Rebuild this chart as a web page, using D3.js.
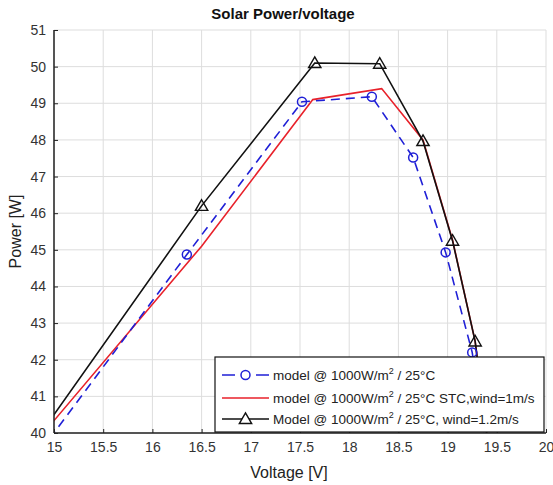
<!DOCTYPE html>
<html>
<head>
<meta charset="utf-8">
<style>
  body { margin: 0; background: #fff; }
  svg { font-family: Arial, 'Liberation Sans', sans-serif; }
  .grid line { stroke: #ddd; stroke-width: 1; }
  .axis .domain { stroke: #222; stroke-width: 1.5; }
  .axis .tick line { stroke: #222; }
  .axis .tick text { font-size: 14px; fill: #333; }
  .legend text { font-size: 13.5px; fill: #222; }
</style>
</head>
<body>
<svg width="553" height="485"></svg>
<script src="https://d3js.org/d3.v7.min.js"></script>
<script>
  // values
  let xTicks = [15, 15.5, 16, 16.5, 17, 17.5, 18, 18.5, 19, 19.5, 20];
  let yTicks = [40, 41, 42, 43, 44, 45, 46, 47, 48, 49, 50, 51];

  // blue dashed, circles (first and last points lie outside the box / under the legend)
  let blueV = [14.5, 16.35, 17.52, 18.23, 18.65, 18.98, 19.25, 19.4];
  let blueP = [38.2, 44.87, 49.04, 49.18, 47.52, 44.93, 42.2, 39.5];
  // red solid, no markers
  let redV = [14.5, 16.5, 17.63, 18.33, 18.75, 19.05, 19.28, 19.42];
  let redP = [38.75, 45.1, 49.1, 49.4, 48.0, 45.27, 42.5, 39.5];
  // black solid, triangles
  let blackV = [14.5, 16.5, 17.65, 18.31, 18.75, 19.05, 19.28, 19.42];
  let blackP = [38.6, 46.2, 50.1, 50.08, 47.97, 45.25, 42.5, 39.5];

  let legendLabels = [
    ["model @ 1000W/m", "2", " / 25°C"],
    ["model @ 1000W/m", "2", " / 25°C STC,wind=1m/s"],
    ["Model @ 1000W/m", "2", " / 25°C, wind=1.2m/s"]
  ];

  let svg = d3.select("svg");
  let margin = { top: 30, right: 7, bottom: 52, left: 54 };
  let width = 553 - margin.left - margin.right;
  let height = 485 - margin.top - margin.bottom;

  let x = d3.scaleLinear().domain([15, 20]).range([margin.left, margin.left + width]);
  let y = d3.scaleLinear().domain([40, 51]).range([margin.top + height, margin.top]);

  // grid
  let grid = svg.append("g").attr("class", "grid");
  grid.selectAll(".gx").data(xTicks).join("line")
    .attr("x1", d => x(d)).attr("x2", d => x(d))
    .attr("y1", y(40)).attr("y2", y(51));
  grid.selectAll(".gy").data(yTicks).join("line")
    .attr("y1", d => y(d)).attr("y2", d => y(d))
    .attr("x1", x(15)).attr("x2", x(20));

  svg.append("defs").append("clipPath").attr("id", "clip")
    .append("rect").attr("x", x(15)).attr("y", y(51))
    .attr("width", width).attr("height", height);

  let line = d3.line().x(d => x(d[0])).y(d => y(d[1]));
  let plot = svg.append("g").attr("clip-path", "url(#clip)");

  let red = d3.zip(redV, redP);
  let blue = d3.zip(blueV, blueP);
  let black = d3.zip(blackV, blackP);

  plot.append("path").datum(red).attr("d", line)
    .attr("fill", "none").attr("stroke", "#e8212a").attr("stroke-width", 1.6);
  plot.append("path").datum(blue).attr("d", line)
    .attr("fill", "none").attr("stroke", "#1f1fd6").attr("stroke-width", 1.6)
    .attr("stroke-dasharray", "9,6");
  plot.append("path").datum(black).attr("d", line)
    .attr("fill", "none").attr("stroke", "#111").attr("stroke-width", 1.6);

  let tri = d3.symbol().type(d3.symbolTriangle).size(66);
  plot.selectAll(".circ").data(blue.slice(1, -1)).join("circle")
    .attr("cx", d => x(d[0])).attr("cy", d => y(d[1])).attr("r", 4.5)
    .attr("fill", "none").attr("stroke", "#1f1fd6").attr("stroke-width", 1.5);
  plot.selectAll(".tri").data(black.slice(1, -1)).join("path")
    .attr("d", tri)
    .attr("transform", d => `translate(${x(d[0])},${y(d[1]) + 1})`)
    .attr("fill", "none").attr("stroke", "#111").attr("stroke-width", 1.4);

  // axes
  svg.append("g").attr("class", "axis")
    .attr("transform", `translate(0,${y(40)})`)
    .call(d3.axisBottom(x).tickValues(xTicks).tickSize(-4).tickPadding(9).tickFormat(d => d))
    .call(g => g.select(".domain").attr("d", `M${x(15)},0H${x(20)}`));
  svg.append("g").attr("class", "axis")
    .attr("transform", `translate(${x(15)},0)`)
    .call(d3.axisLeft(y).tickValues(yTicks).tickSize(-4).tickPadding(8))
    .call(g => g.select(".domain").attr("d", `M0,${y(40)}V${y(51)}`));

  // title and labels
  svg.append("text").attr("x", 283).attr("y", 19).attr("text-anchor", "middle")
    .attr("font-size", 15).attr("font-weight", "bold").attr("fill", "#111")
    .text("Solar Power/voltage");
  svg.append("text").attr("x", 289).attr("y", 478).attr("text-anchor", "middle")
    .attr("font-size", 16).attr("fill", "#222").text("Voltage [V]");
  svg.append("text").attr("transform", `translate(21,${y(45.5)}) rotate(-90)`)
    .attr("text-anchor", "middle").attr("font-size", 16).attr("fill", "#222")
    .text("Power [W]");

  // legend
  let lg = svg.append("g").attr("class", "legend");
  lg.append("rect").attr("x", 215).attr("y", 357).attr("width", 329).attr("height", 75)
    .attr("fill", "#fff").attr("stroke", "#111").attr("stroke-width", 1.2);
  let rows = [375, 398, 419];
  let styles = [
    { c: "#1f1fd6", dash: "13,21,13", m: "circle" },
    { c: "#e8212a", dash: null, m: null },
    { c: "#111", dash: null, m: "tri" }
  ];
  rows.forEach((ry, i) => {
    let s = styles[i];
    lg.append("line").attr("x1", 222).attr("x2", 269).attr("y1", ry).attr("y2", ry)
      .attr("stroke", s.c).attr("stroke-width", 1.6).attr("stroke-dasharray", s.dash);
    if (s.m === "circle") {
      lg.append("circle").attr("cx", 245.5).attr("cy", ry).attr("r", 4.5)
        .attr("fill", "#fff").attr("stroke", s.c).attr("stroke-width", 1.5);
    } else if (s.m === "tri") {
      lg.append("path").attr("d", tri).attr("transform", `translate(245.5,${ry + 1})`)
        .attr("fill", "#fff").attr("stroke", s.c).attr("stroke-width", 1.4);
    }
    let t = lg.append("text").attr("x", 273).attr("y", ry + 5);
    t.append("tspan").text(legendLabels[i][0]);
    t.append("tspan").attr("dy", -6).attr("font-size", 9).text(legendLabels[i][1]);
    t.append("tspan").attr("dy", 6).text(legendLabels[i][2]);
  });
</script>
</body>
</html>
